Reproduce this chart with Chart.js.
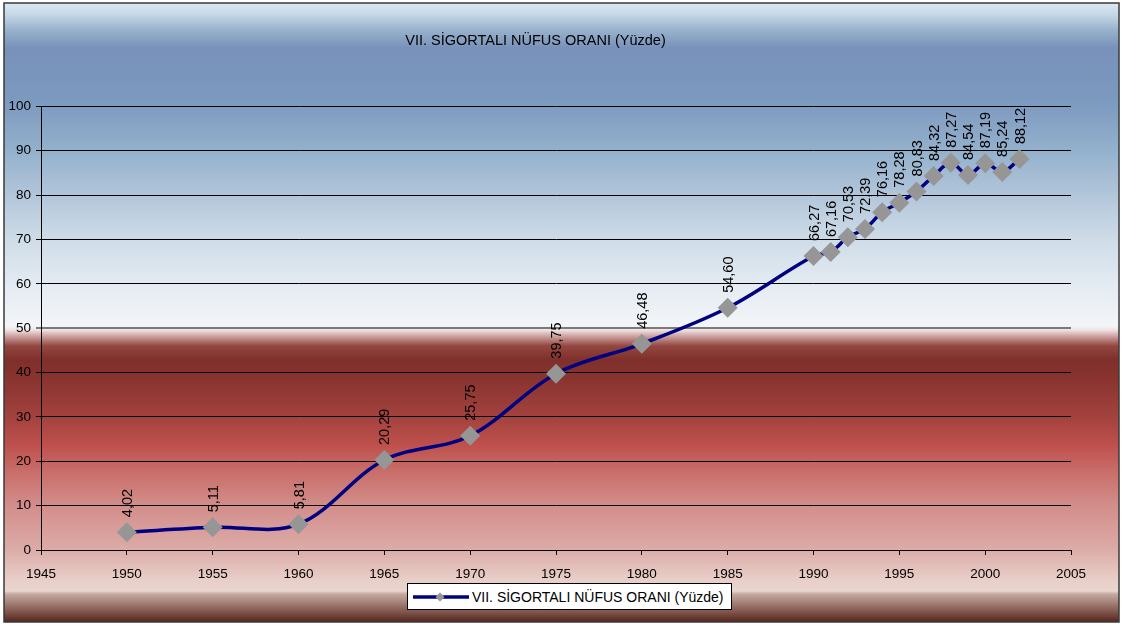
<!DOCTYPE html>
<html>
<head>
<meta charset="utf-8">
<script src="https://cdn.jsdelivr.net/npm/chart.js@4/dist/chart.umd.min.js"></script>
<style>
  html, body { margin: 0; padding: 0; background: #fff; }
  #wrap { position: relative; width: 1122px; height: 628px; }
  #legend {
    position: absolute; left: 407px; top: 583px; width: 323px; height: 25px;
    border: 1px solid #000; background: #fff;
    font-family: "Liberation Sans", Arial, sans-serif; font-size: 14px; color: #000;
    display: flex; align-items: center; box-sizing: content-box;
  }
  #legend canvas { margin-left: 5px; margin-right: 3px; }
</style>
</head>
<body>
<div id="wrap">
  <canvas id="c" width="1122" height="628"></canvas>
  <div id="legend"><canvas id="lg" width="56" height="12"></canvas><span id="legendText"></span></div>
</div>
<script>
const chartTitle = "VII. SİGORTALI NÜFUS ORANI (Yüzde)";
const seriesName = "VII. SİGORTALI NÜFUS ORANI (Yüzde)";
const years = [1950, 1955, 1960, 1965, 1970, 1975, 1980, 1985, 1990, 1991, 1992, 1993, 1994, 1995, 1996, 1997, 1998, 1999, 2000, 2001, 2002];
const values = [4.02, 5.11, 5.81, 20.29, 25.75, 39.75, 46.48, 54.60, 66.27, 67.16, 70.53, 72.39, 76.16, 78.28, 80.83, 84.32, 87.27, 84.54, 87.19, 85.24, 88.12];
const xMin = 1945, xMax = 2005, xStep = 5;
const yMin = 0, yMax = 100, yStep = 10;

const FONT = '"Liberation Sans", Arial, sans-serif';

const bgPlugin = {
  id: 'bg',
  beforeDraw(chart) {
    const ctx = chart.ctx;
    const g = ctx.createLinearGradient(0, 3, 0, 622);
    const stops = [
      [3, '#dde9f1'], [14, '#c6d9e8'], [30, '#98b2cc'], [48, '#7891ba'],
      [100, '#7c99bf'], [150, '#93b0cc'], [195, '#b2c6da'], [240, '#cfdce8'],
      [285, '#e4ebf2'], [326, '#f3f5f8'], [330, '#efe2e2'], [337, '#c89a98'],
      [346, '#93463f'], [360, '#7f2f2b'], [380, '#8a3430'], [417, '#a3423e'],
      [445, '#bf504c'], [470, '#c86c68'], [506, '#d38e8b'], [550, '#dcaca8'],
      [580, '#e8cfc8'], [591, '#e9d5cf'], [594, '#c5aaa2'], [606, '#977167'], [621, '#5a2a22']
    ];
    for (const [y, c] of stops) g.addColorStop(Math.min(1, Math.max(0, (y - 3) / 619)), c);
    ctx.save();
    ctx.fillStyle = g;
    ctx.fillRect(4, 3, 1115, 619);
    ctx.strokeStyle = '#3a3a3a';
    ctx.lineWidth = 1.5;
    ctx.strokeRect(4, 3, 1115, 619);
    ctx.restore();
  }
};

const labelPlugin = {
  id: 'vlabels',
  afterDatasetsDraw(chart) {
    const ctx = chart.ctx;
    const meta = chart.getDatasetMeta(0);
    ctx.save();
    ctx.font = '14.5px ' + FONT;
    ctx.fillStyle = '#000';
    ctx.textAlign = 'left';
    ctx.textBaseline = 'middle';
    meta.data.forEach((pt, i) => {
      ctx.save();
      ctx.translate(pt.x + 1, pt.y - 15);
      ctx.rotate(-Math.PI / 2);
      ctx.fillText(values[i].toFixed(2).replace('.', ','), 0, 0);
      ctx.restore();
    });
    ctx.restore();
  }
};

new Chart(document.getElementById('c'), {
  type: 'line',
  data: {
    datasets: [{
      label: seriesName,
      data: years.map((y, i) => ({ x: y, y: values[i] })),
      borderColor: '#000080',
      borderWidth: 3.5,
      tension: 0.35,
      pointStyle: 'rectRot',
      pointRadius: 10,
      pointHoverRadius: 10,
      pointBackgroundColor: '#969696',
      pointBorderWidth: 0,
      pointBorderColor: '#969696'
    }]
  },
  options: {
    responsive: false,
    animation: false,
    events: [],
    layout: { padding: { left: 0, right: 51, top: 0, bottom: 0 } },
    plugins: {
      legend: { display: false },
      tooltip: { enabled: false },
      title: {
        display: true,
        text: chartTitle,
        color: '#000',
        font: { family: FONT, size: 14.5, weight: 'normal' },
        padding: { top: 32, bottom: 57 }
      }
    },
    scales: {
      x: {
        type: 'linear',
        min: xMin, max: xMax,
        afterFit(s) { s.height = 78; },
        ticks: { stepSize: xStep, color: '#000', font: { family: FONT, size: 13.5 }, padding: 11, maxRotation: 0, callback: v => String(v) },
        grid: { drawOnChartArea: false, drawTicks: true, tickLength: 5, color: '#000', lineWidth: 1 },
        border: { display: true, color: '#000', width: 1 }
      },
      y: {
        min: yMin, max: yMax,
        afterFit(s) { s.width = 41; },
        ticks: { stepSize: yStep, color: '#000', font: { family: FONT, size: 13.5 }, padding: 5 },
        grid: {
          drawTicks: true, tickLength: 5,
          color: c => (c.tick && c.tick.value === 50) ? '#7a7a7a' : '#000',
          lineWidth: c => (c.tick && c.tick.value === 50) ? 2 : 1
        },
        border: { display: true, color: '#000', width: 1 }
      }
    }
  },
  plugins: [bgPlugin, labelPlugin]
});

document.getElementById('legendText').textContent = seriesName;
const lg = document.getElementById('lg').getContext('2d');
lg.strokeStyle = '#000080';
lg.lineWidth = 3.5;
lg.beginPath(); lg.moveTo(0, 6); lg.lineTo(56, 6); lg.stroke();
lg.fillStyle = '#969696';
lg.beginPath(); lg.moveTo(27, 1.5); lg.lineTo(31.5, 6); lg.lineTo(27, 10.5); lg.lineTo(22.5, 6); lg.closePath(); lg.fill();
</script>
</body>
</html>
